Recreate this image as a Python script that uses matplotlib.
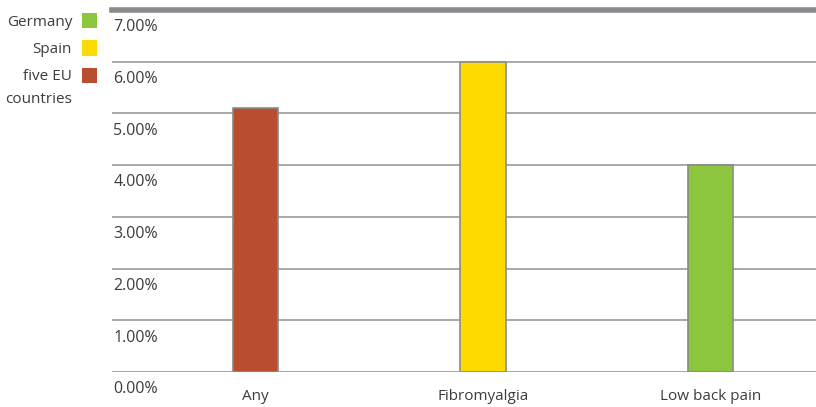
import matplotlib
matplotlib.use("Agg")
import matplotlib.pyplot as plt
from matplotlib.patches import Rectangle

# prevalence by condition, with the country group behind each figure
categories = ["Any", "Fibromyalgia", "Low back pain"]
values = [5.1, 6.0, 4.0]
bar_colors = ["#B84E2F", "#FFDA00", "#8CC63F"]

legend_labels = ["Germany", "Spain", "five EU\ncountries"]
legend_colors = ["#8CC63F", "#FFDA00", "#B84E2F"]

yticks = [0, 1, 2, 3, 4, 5, 6, 7]
ytick_labels = ["%.2f%%" % t for t in yticks]

plt.rcParams['font.family'] = ['Open Sans', 'DejaVu Sans']
text_color = "#3c3c3c"
grid_color = "#9a9a9a"

W, H = 816, 407
fig = plt.figure(figsize=(W / 100, H / 100), dpi=100)
ax = fig.add_axes([112 / W, 1 - 372 / H, 1 - 112 / W, (372 - 9.75) / H])

x = list(range(len(categories)))
ax.bar(x, values, width=0.2, color=bar_colors, edgecolor="#8a8a8a",
       linewidth=1.2, zorder=3)
ax.set_xlim(-0.631, 2.464)
ax.set_ylim(0, 7)

# gridlines, the top one drawn heavy
for t in yticks:
    if t == 7:
        ax.axhline(t, color="#8a8a8e", lw=4, zorder=2, clip_on=False)
    else:
        ax.axhline(t, color=grid_color, lw=1.2, zorder=2)

# tick labels sit just below each gridline, inside the plot
ax.set_yticks([])
ax.set_xticks([])
for t, lab in zip(yticks, ytick_labels):
    ax.annotate(lab, xy=(0, t), xycoords=("axes fraction", "data"),
                xytext=(1, -12.5), textcoords="offset points",
                ha="left", va="center", fontsize=11.5, color=text_color)
for xi, lab in zip(x, categories):
    ax.annotate(lab, xy=(xi, 0), xycoords="data",
                xytext=(0, -18), textcoords="offset points",
                ha="center", va="center", fontsize=11, color=text_color,
                annotation_clip=False)

for s in ax.spines.values():
    s.set_visible(False)

# legend on the left margin: swatch centres and label rows in pixels
legend_y = [20.5, 48, 75.5]
for lab, col, yc in zip(legend_labels, legend_colors, legend_y):
    fig.add_artist(Rectangle((82 / W, 1 - (yc + 7.5) / H), 15 / W, 15 / H,
                             facecolor=col, edgecolor="none",
                             transform=fig.transFigure))
    fig.text(72 / W, 1 - (yc - 6) / H, lab, ha="right", va="top",
             fontsize=11, color=text_color, linespacing=1.65)

fig.savefig("out.png", dpi=100)
